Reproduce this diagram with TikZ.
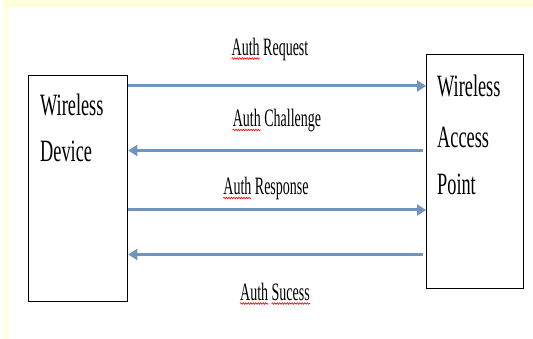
\documentclass[tikz,border=0pt]{standalone}
\usepackage{fontspec}
\setmainfont{Liberation Serif}
\usetikzlibrary{arrows.meta,calc,decorations.pathmorphing}
\definecolor{bgyellow}{RGB}{255,255,217}
\definecolor{arrowblue}{RGB}{112,148,192}
\newcommand{\boxtxt}[1]{\scalebox{0.59}[1]{\fontsize{31}{31}\selectfont #1}}
\newcommand{\lbltxt}[1]{\scalebox{0.56}[1]{\fontsize{25}{25}\selectfont #1}}
\begin{document}
\begin{tikzpicture}[x=1pt,y=-1pt,
  entity/.style={draw=black,line width=1.3pt,inner sep=0pt,anchor=north west},
  boxline/.style={anchor=base west,inner sep=0pt},
  msglabel/.style={anchor=base,inner sep=0pt},
  msg/.style={draw=arrowblue,line width=3pt,-{Triangle[length=9pt,width=11pt]}},
  spell/.style={draw=red,line width=0.6pt,decorate,decoration={snake,amplitude=0.8pt,segment length=2.5pt}}]
  \useasboundingbox (0,0) rectangle (533,339);
  \fill[white] (0,0) rectangle (533,339);
  \fill[bgyellow] (4,0) rectangle (533,7);
  \fill[bgyellow] (4,0) rectangle (8,339);

  % boxes
  \node[entity,minimum width=99pt,minimum height=226pt] (dev) at (28,75) {};
  \node[entity,minimum width=97pt,minimum height=234pt] (ap) at (426,54) {};

  % box texts
  \node[boxline] (wd1) at (40,116) {\boxtxt{Wireless}};
  \node[boxline] (wd2) at (40,162) {\boxtxt{Device}};
  \node[boxline] (ap1) at (437,97) {\boxtxt{Wireless}};
  \node[boxline] (ap2) at (437,148) {\boxtxt{Access}};
  \node[boxline] (ap3) at (437,195) {\boxtxt{Point}};

  % message rows
  \coordinate (r1) at (0,86);
  \coordinate (r2) at (0,150.5);
  \coordinate (r3) at (0,210);
  \coordinate (r4) at (0,254.5);

  \draw[msg] (dev.east |- r1) -- (ap.west |- r1);
  \draw[msg,shorten <=3pt] (ap.west |- r2) -- (dev.east |- r2);
  \draw[msg] (dev.east |- r3) -- (ap.west |- r3);
  \draw[msg,shorten <=3pt] (ap.west |- r4) -- (dev.east |- r4);

  % labels
  \node[msglabel] (l1) at (270,55.5) {\lbltxt{Auth Request}};
  \node[msglabel] (l2) at (277,127) {\lbltxt{Auth Challenge}};
  \node[msglabel] (l3) at (266,195) {\lbltxt{Auth Response}};
  \node[msglabel] (l4) at (275,300.5) {\lbltxt{Auth Sucess}};

  % spell-check underlines
  \draw[spell] ($(l1.base west)+(0,3)$) -- ++(28,0);
  \draw[spell] ($(l2.base west)+(0,3)$) -- ++(28,0);
  \draw[spell] ($(l3.base west)+(0,3)$) -- ++(28,0);
  \draw[spell] ($(l4.base west)+(0,3)$) -- ++(28,0);
  \draw[spell] ($(l4.base west)+(31.5,3)$) -- ($(l4.base east)+(0,3)$);
\end{tikzpicture}
\end{document}
